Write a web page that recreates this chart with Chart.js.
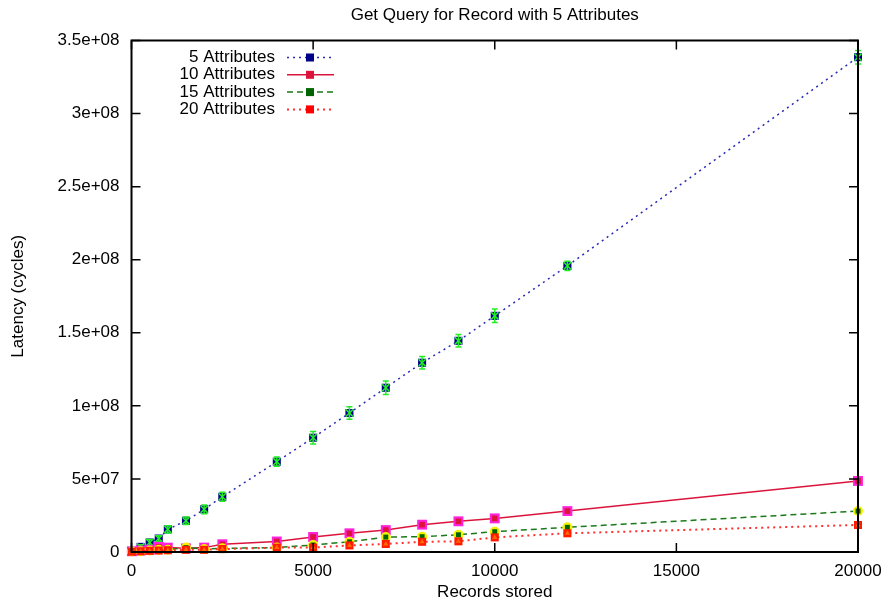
<!DOCTYPE html>
<html>
<head>
<meta charset="utf-8">
<script src="https://cdn.jsdelivr.net/npm/chart.js@4.4.1/dist/chart.umd.min.js"></script>
<style>
  body { margin: 0; background: #fff; }
  #wrap { width: 886px; height: 607px; }
</style>
</head>
<body>
<div id="wrap"><canvas id="myChart" width="886" height="607"></canvas></div>
<script>
// data
const records = [10, 250, 500, 750, 1000, 1500, 2000, 2500, 4000, 5000, 6000, 7000, 8000, 9000, 10000, 12000, 20000];

const attr5 = [5e5, 3.5e6, 6.5e6, 9.2e6, 1.55e7, 2.14e7, 2.92e7, 3.78e7, 6.18e7, 7.82e7, 9.51e7, 1.124e8, 1.295e8, 1.445e8, 1.616e8, 1.958e8, 3.386e8];
const attr5Err = [1e6, 1.5e6, 2e6, 2e6, 2.5e6, 2.5e6, 3e6, 3e6, 3.2e6, 4.3e6, 4.3e6, 4.6e6, 4.2e6, 4.3e6, 4.6e6, 3.2e6, 4.6e6];
const attr10 = [5e5, 1e6, 1.5e6, 3.5e6, 3e6, 2.5e6, 3e6, 5.3e6, 7.2e6, 1.03e7, 1.28e7, 1.5e7, 1.87e7, 2.1e7, 2.3e7, 2.8e7, 4.86e7];
const attr15 = [3e5, 5e5, 1e6, 1.5e6, 1.5e6, 3e6, 2e6, 2.5e6, 3e6, 4.8e6, 7e6, 1.02e7, 1.05e7, 1.18e7, 1.39e7, 1.69e7, 2.8e7];
const attr20 = [2e5, 5e5, 8e5, 1e6, 1.2e6, 1.5e6, 1.5e6, 2e6, 3e6, 3e6, 4.5e6, 5.5e6, 7e6, 7.3e6, 1.0e7, 1.28e7, 1.85e7];

const xTicks = [0, 5000, 10000, 15000, 20000];
const yMax = 3.5e8;
const yStep = 5e7;

const chartTitle = "Get Query for Record with 5 Attributes";
const FONT = "'Liberation Sans', Arial, sans-serif";

const pts = (ys) => ys.map((y, i) => ({ x: records[i], y: y }));

// gnuplot style "%g" tick labels
function gLabel(v) {
  if (v === 0) return "0";
  return v.toExponential().replace(/e\+(\d)$/, "e+0$1");
}

// frame + inward ticks, error bars, title, legend
const gnuplotLook = {
  id: "gnuplotLook",
  afterDatasetDraw(chart, args) {
    const ds = chart.data.datasets[args.index];
    if (!ds.errors) return;
    const ctx = chart.ctx;
    const xs = chart.scales.x, ys = chart.scales.y;
    ctx.save();
    ctx.strokeStyle = ds.errorColor;
    ctx.lineWidth = 1.5;
    ds.data.forEach((p, i) => {
      const px = xs.getPixelForValue(p.x);
      const y1 = ys.getPixelForValue(p.y - ds.errors[i]);
      const y2 = ys.getPixelForValue(p.y + ds.errors[i]);
      ctx.beginPath();
      ctx.moveTo(px, y1); ctx.lineTo(px, y2);
      ctx.moveTo(px - 3, y1); ctx.lineTo(px + 3, y1);
      ctx.moveTo(px - 3, y2); ctx.lineTo(px + 3, y2);
      ctx.stroke();
    });
    ctx.restore();
  },
  afterDraw(chart) {
    const ctx = chart.ctx;
    const { left, right, top, bottom } = chart.chartArea;
    const xs = chart.scales.x, ys = chart.scales.y;
    ctx.save();
    ctx.strokeStyle = "#000";
    ctx.lineWidth = 1.5;
    ctx.beginPath();
    xs.ticks.forEach((t) => {
      const px = xs.getPixelForValue(t.value);
      ctx.moveTo(px, bottom); ctx.lineTo(px, bottom - 9);
      ctx.moveTo(px, top); ctx.lineTo(px, top + 9);
    });
    ys.ticks.forEach((t) => {
      const py = ys.getPixelForValue(t.value);
      ctx.moveTo(left, py); ctx.lineTo(left + 9, py);
      ctx.moveTo(right, py); ctx.lineTo(right - 9, py);
    });
    ctx.stroke();
    ctx.lineWidth = 2;
    ctx.strokeRect(left, top, right - left, bottom - top);

    ctx.font = "17px " + FONT;
    ctx.fillStyle = "#000";
    ctx.textAlign = "center";
    ctx.textBaseline = "middle";
    ctx.fillText(chartTitle, (left + right) / 2, 15.5);

    // legend, top left inside the frame
    const main = chart.data.datasets.filter((d) => d.label);
    ctx.textAlign = "right";
    main.forEach((d, i) => {
      const y = 57.5 + i * 17.3;
      ctx.fillStyle = "#000";
      ctx.fillText(d.label, 275, y);
      ctx.strokeStyle = d.borderColor;
      ctx.lineWidth = d.borderWidth;
      ctx.setLineDash(d.borderDash || []);
      ctx.beginPath();
      ctx.moveTo(287, y); ctx.lineTo(334, y);
      ctx.stroke();
      ctx.setLineDash([]);
      ctx.fillStyle = d.legendMarker;
      ctx.fillRect(306, y - 4, 8, 8);
    });
    ctx.restore();
  },
};

const ctx = document.getElementById("myChart");

new Chart(ctx, {
  type: "line",
  data: {
    datasets: [
      {
        label: "5 Attributes",
        data: pts(attr5),
        errors: attr5Err,
        errorColor: "#22ee22",
        borderColor: "#2a2ab8",
        borderWidth: 1.5,
        borderDash: [2, 4],
        pointStyle: "rect",
        pointRadius: 5.7,
        pointBackgroundColor: "#00008b",
        pointBorderColor: "#00008b",
        pointBorderWidth: 0,
        legendMarker: "#00008b",
        clip: false,
        order: 8,
      },
      {
        label: "",
        data: pts(attr5),
        showLine: false,
        pointStyle: "crossRot",
        pointRadius: 5,
        pointBorderColor: "#22ee22",
        pointBorderWidth: 1.5,
        clip: false,
        order: 7,
      },
      {
        label: "10 Attributes",
        data: pts(attr10),
        borderColor: "#dc143c",
        borderWidth: 1.5,
        pointStyle: "rect",
        pointRadius: 7,
        pointBackgroundColor: "#ff22dd",
        pointBorderColor: "#ff22dd",
        pointBorderWidth: 0,
        legendMarker: "#dc143c",
        clip: false,
        order: 6,
      },
      {
        label: "",
        data: pts(attr10),
        showLine: false,
        pointStyle: "rect",
        pointRadius: 4,
        pointBackgroundColor: "#dc143c",
        pointBorderColor: "#dc143c",
        pointBorderWidth: 0,
        clip: false,
        order: 5,
      },
      {
        label: "15 Attributes",
        data: pts(attr15),
        borderColor: "#1a7a1a",
        borderWidth: 1.5,
        borderDash: [6, 4],
        pointStyle: "circle",
        pointRadius: 5,
        pointBackgroundColor: "#f2f200",
        pointBorderColor: "#f2f200",
        pointBorderWidth: 0,
        legendMarker: "#006400",
        clip: false,
        order: 4,
      },
      {
        label: "",
        data: pts(attr15),
        showLine: false,
        pointStyle: "rect",
        pointRadius: 3.5,
        pointBackgroundColor: "#006400",
        pointBorderColor: "#006400",
        pointBorderWidth: 0,
        clip: false,
        order: 3,
      },
      {
        label: "20 Attributes",
        data: pts(attr20),
        borderColor: "#ff3030",
        borderWidth: 2,
        borderDash: [2, 4],
        pointStyle: "rect",
        pointRadius: 5.7,
        pointBackgroundColor: "#ff1a00",
        pointBorderColor: "#ff1a00",
        pointBorderWidth: 0,
        legendMarker: "#ff0000",
        clip: false,
        order: 2,
      },
      {
        label: "",
        data: pts(attr20),
        showLine: false,
        pointStyle: "triangle",
        pointRadius: 3,
        pointBackgroundColor: "#ff6a00",
        pointBorderColor: "#ff6a00",
        pointBorderWidth: 0,
        clip: false,
        order: 1,
      },
    ],
  },
  options: {
    responsive: false,
    animation: false,
    layout: {
      padding: { left: 0, right: 28, top: 40.5, bottom: 0 },
    },
    scales: {
      x: {
        type: "linear",
        min: 0,
        max: 20000,
        afterBuildTicks: (scale) => {
          scale.ticks = xTicks.map((v) => ({ value: v }));
        },
        afterFit: (scale) => {
          scale.height = 55;
          scale.paddingLeft = 0;
          scale.paddingRight = 0;
        },
        grid: { display: false, drawTicks: false },
        border: { display: false },
        ticks: {
          color: "#000",
          padding: 9,
          maxRotation: 0,
          font: { family: FONT, size: 17 },
          callback: (v) => String(v),
        },
        title: {
          display: true,
          text: "Records stored",
          color: "#000",
          padding: { top: 0, bottom: 4 },
          font: { family: FONT, size: 17 },
        },
      },
      y: {
        min: 0,
        max: yMax,
        afterFit: (scale) => {
          scale.width = 131.5;
          scale.paddingTop = 0;
          scale.paddingBottom = 0;
        },
        grid: { display: false, drawTicks: false },
        border: { display: false },
        ticks: {
          stepSize: yStep,
          color: "#000",
          padding: 12,
          font: { family: FONT, size: 17 },
          callback: (v) => gLabel(v),
        },
        title: {
          display: true,
          text: "Latency (cycles)",
          color: "#000",
          padding: { top: 8, bottom: 0 },
          font: { family: FONT, size: 17 },
        },
      },
    },
    plugins: {
      legend: { display: false },
      tooltip: { enabled: false },
      title: { display: false },
    },
  },
  plugins: [gnuplotLook],
});
</script>
</body>
</html>
